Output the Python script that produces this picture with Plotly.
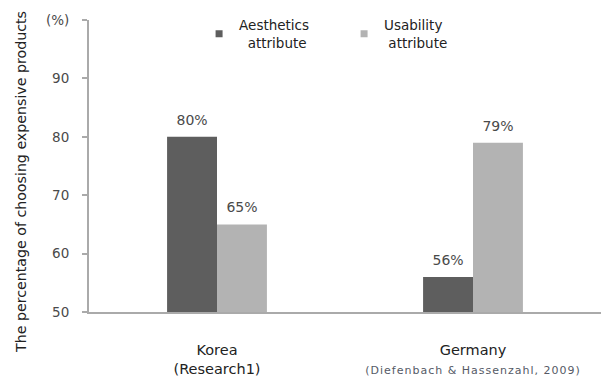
import plotly.graph_objects as go

categories = ["Korea<br>(Research1)",
              "Germany<br><span style='font-size:11px;letter-spacing:1px;fill:#555a66'>(Diefenbach &amp; Hassenzahl, 2009)</span>"]
aesthetics = [80, 56]
usability = [65, 79]
series_names = ["Aesthetics<br>\u00a0\u00a0attribute", "Usability<br>\u00a0attribute"]
y_tickvals = [50, 60, 70, 80, 90, 100]
y_ticktext = ["50", "60", "70", "80", "90", "(%)"]

dark = "#5e5e5e"
light = "#b3b3b3"
txt = "#4a4a4a"
FONT = "DejaVu Sans, Liberation Sans, Arial, sans-serif"

fig = go.Figure()
for vals, col, grp in [(aesthetics, dark, "a"), (usability, light, "u")]:
    fig.add_trace(go.Bar(x=categories, y=vals, marker=dict(color=col, line=dict(width=0)),
                         offsetgroup=grp, showlegend=False, hoverinfo="skip"))
for vals, grp in [(aesthetics, "a"), (usability, "u")]:
    fig.add_trace(go.Scatter(x=categories, y=vals, mode="markers+text", offsetgroup=grp,
                             marker=dict(size=12, opacity=0), texttemplate="%{y}%",
                             textposition="top center", cliponaxis=False,
                             textfont=dict(size=14, color=txt), showlegend=False,
                             hoverinfo="skip"))
# legend entries
fig.add_trace(go.Scatter(x=[None], y=[None], mode="markers", name=series_names[0],
                         marker=dict(symbol="square", size=7, color=dark)))
fig.add_trace(go.Scatter(x=[None], y=[None], mode="markers", name=series_names[1],
                         marker=dict(symbol="square", size=7, color=light)))

fig.update_layout(
    width=603, height=376,
    margin=dict(l=89, r=2, t=20, b=64),
    paper_bgcolor="white", plot_bgcolor="white",
    font=dict(family=FONT, size=14, color=txt),
    barmode="group", bargap=0.61, bargroupgap=0,
    scattermode="group", scattergap=0.61,
    legend=dict(orientation="h", x=0.215, y=1.035, xanchor="left", yanchor="top",
                font=dict(size=13.5, color="#222"), entrywidth=100, itemwidth=30,
                bgcolor="rgba(0,0,0,0)", tracegroupgap=0),
    xaxis=dict(showline=True, linecolor="#aaaaaa", linewidth=2, ticks="",
               tickfont=dict(size=14.5, color="#222"), ticklabelstandoff=24,
               showgrid=False, automargin=False),
    yaxis=dict(range=[50, 100], tickvals=y_tickvals, ticktext=y_ticktext,
               showline=True, linecolor="#aaaaaa", linewidth=2, ticks="outside",
               ticklen=5, tickcolor="#aaaaaa", tickwidth=1.5, showgrid=False,
               tickfont=dict(size=13.5, color=txt), ticklabelstandoff=10,
               zeroline=False, automargin=False),
    annotations=[dict(text="The percentage of choosing expensive products",
                      textangle=-90, x=-0.133, y=0.445, xref="paper", yref="paper",
                      xanchor="center", yanchor="middle",
                      showarrow=False, font=dict(size=14.2, color="#222"))],
)

fig.write_html("out.html")
